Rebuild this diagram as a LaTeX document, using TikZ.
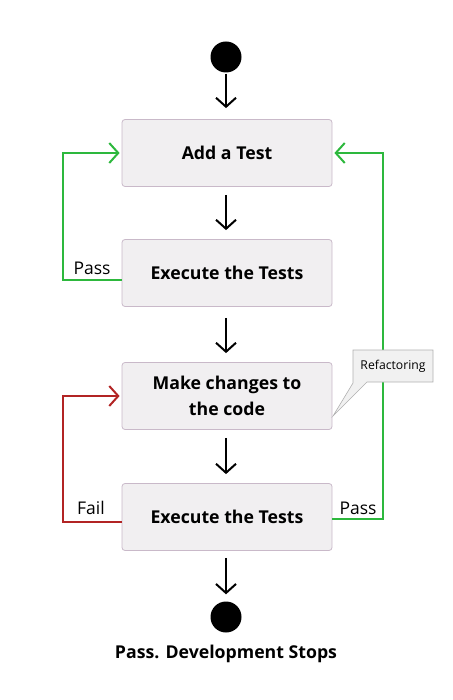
\documentclass[tikz,border=0pt]{standalone}
\usepackage{fontspec}
\setmainfont{Open Sans}
\usetikzlibrary{arrows.meta}
\definecolor{boxfill}{HTML}{F1EFF1}
\definecolor{boxline}{HTML}{C9B9C9}
\definecolor{okgreen}{HTML}{2DB83D}
\definecolor{badred}{HTML}{B22424}
\definecolor{notefill}{HTML}{F1F1F1}
\definecolor{noteline}{HTML}{B0B0B0}
\tikzset{
  stepbox/.style={draw=boxline, fill=boxfill, rounded corners=3pt, line width=0.8pt,
    minimum width=210pt, minimum height=67pt, align=center,
    font=\fontsize{17.7}{26}\selectfont\bfseries},
  dot/.style={circle, fill=black, minimum size=31pt, inner sep=0pt},
  flow/.style={line width=2pt, -{Straight Barb[length=9pt,width=20pt,line width=2pt]}},
  loopg/.style={draw=okgreen, line width=2pt, -{Straight Barb[length=9pt,width=20pt,line width=2pt]}},
  loopr/.style={draw=badred, line width=2pt, -{Straight Barb[length=9pt,width=20pt,line width=2pt]}},
  lbl/.style={font=\fontsize{17.5}{20}\selectfont, inner sep=0pt},
}
\begin{document}
\begin{tikzpicture}[x=1pt,y=-1pt]
\useasboundingbox (0,0) rectangle (452,700);
\node[dot] (s) at (226,57) {};
\node[stepbox] (b1) at (227,153) {Add a Test};
\node[stepbox] (b2) at (227,273) {Execute the Tests};
\node[stepbox] (b3) at (227,396) {Make changes to\\the code};
\node[stepbox] (b4) at (227,517) {Execute the Tests};
\node[dot] (e) at (226,617) {};
\node[font=\fontsize{17.7}{20}\selectfont\bfseries] (elbl) at (226,654) {Pass. Development Stops};

\draw[flow, shorten <=1pt, shorten >=11pt] (s) -- (s |- b1.north);
\draw[flow, shorten <=8pt, shorten >=9pt] (b1.south -| s) -- (b2.north -| s);
\draw[flow, shorten <=11pt, shorten >=9pt] (b2.south -| s) -- (b3.north -| s);
\draw[flow, shorten <=8pt, shorten >=9pt] (b3.south -| s) -- (b4.north -| s);
\draw[flow, shorten <=7pt, shorten >=7pt] (b4.south -| s) -- (e.north);

\coordinate (gl) at (63,0);
\coordinate (gr) at (383,0);
\draw[loopg, shorten >=2pt] ([yshift=-7pt]b2.west) -| (gl |- b1.west) -- (b1.west);
\draw[loopg, shorten >=2pt] ([yshift=-2pt]b4.east) -| (gr |- b1.east) -- (b1.east);
\draw[loopr, shorten >=2pt] ([yshift=-5pt]b4.west) -| (gl |- b3.west) -- (b3.west);

\node[lbl] (p1) at (92,268) {Pass};
\node[lbl] (p2) at (358,508) {Pass};
\node[lbl] (f1) at (91,508) {Fail};

\draw[draw=noteline, fill=notefill, line width=0.6pt]
  (353,350) -- (433,350) -- (433,382) -- (367,382) -- (333,416) -- (353,383) -- cycle;
\node[font=\fontsize{12.2}{14}\selectfont, inner sep=0pt] (note) at (393,366) {Refactoring};
\end{tikzpicture}
\end{document}
